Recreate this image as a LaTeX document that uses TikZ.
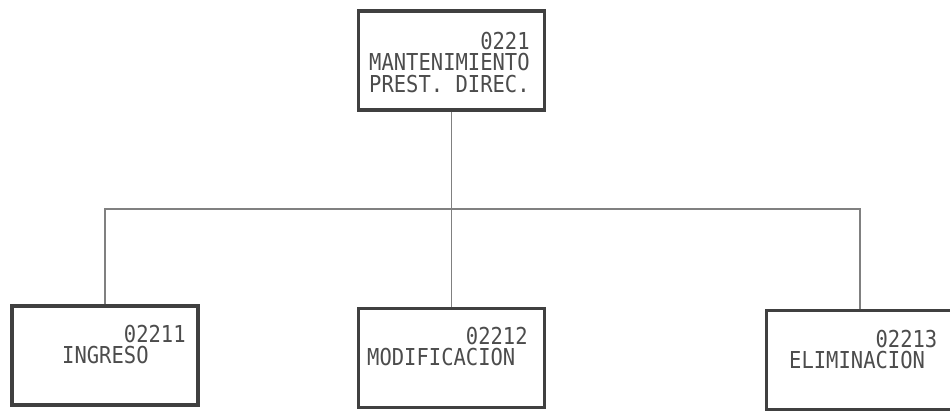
\documentclass[tikz,border=0pt]{standalone}
\usepackage{fontspec}
\usepackage{tikz}
\usetikzlibrary{positioning}
\newfontfamily\plotfont[FakeStretch=0.88]{DejaVu Sans Mono}
\tikzstyle{modbox}=[rectangle,draw=black!75,line width=3.5pt,minimum width=186pt,minimum height=99pt,inner sep=0pt]
\tikzstyle{modtxt}=[anchor=north west,inner sep=0pt,align=left,text=black!70,font=\plotfont\fontsize{23.3}{21.5}\selectfont\frenchspacing]
\tikzstyle{conn}=[draw=black!50,line width=1.6pt]

\begin{document}
\begin{tikzpicture}[x=1pt,y=-1pt]
\useasboundingbox (0,0) rectangle (950,411);
% boxes
\node[modbox] (top) at (451.5,60.5) {};
\node[modbox] (ingreso) at (104.75,355.5) {};
\node[modbox] (modif) at (451.5,358) {};
\node[modbox,minimum width=200pt] (elim) at (866.5,360) {};
% texts
\node[modtxt] (top-txt) at (369,32) {\phantom{000000000}0221\\MANTENIMIENTO\\PREST. DIREC.};
\node[modtxt] (ingreso-txt) at (62,325) {\phantom{00000}02211\\INGRESO};
\node[modtxt] (modif-txt) at (367,327) {\phantom{00000000}02212\\MODIFICACION};
\node[modtxt] (elim-txt) at (789,330) {\phantom{0000000}02213\\ELIMINACION};
% connectors
\coordinate (bus) at (451.5,209);
\draw[conn] (top.south) -- (modif.north);
\draw[conn] (ingreso.north) |- (bus) -| ([xshift=-6.5pt]elim.north);
\end{tikzpicture}
\end{document}
